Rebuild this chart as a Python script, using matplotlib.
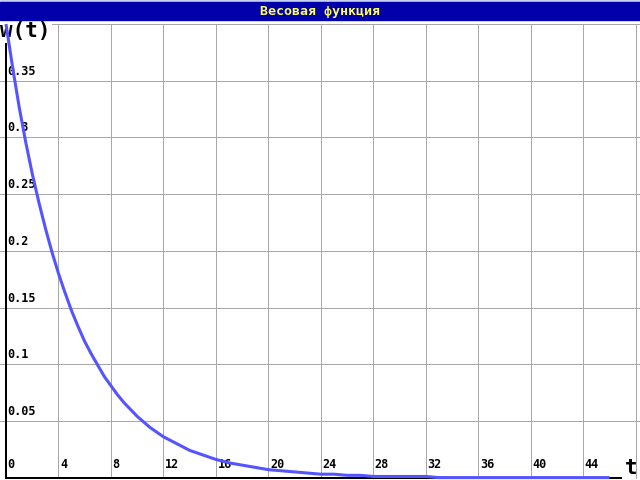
import matplotlib
matplotlib.use('Agg')
import matplotlib.pyplot as plt
from matplotlib.patches import Rectangle

# values
t_vals = [0, 0.5, 1, 1.5, 2, 2.5, 3, 3.5, 4, 4.5, 5, 5.5, 6, 6.5, 7, 7.5, 8, 8.5,
          9, 9.5, 10, 11, 12, 13, 14, 15, 16, 17, 18, 19, 20, 21, 22, 23, 24, 25,
          26, 27, 28, 29, 30, 31, 32, 33, 34, 35, 36, 37, 38, 39, 40, 41, 42, 43,
          44, 45, 46]
w_vals = [0.400, 0.362, 0.327, 0.296, 0.268, 0.243, 0.220, 0.199, 0.180, 0.163,
          0.147, 0.133, 0.120, 0.109, 0.099, 0.089, 0.081, 0.073, 0.066, 0.060,
          0.054, 0.044, 0.036, 0.030, 0.024, 0.020, 0.016, 0.013, 0.011, 0.009,
          0.007, 0.006, 0.005, 0.004, 0.003, 0.003, 0.002, 0.002, 0.001, 0.001,
          0.001, 0.001, 0.001, 0.0, 0.0, 0.0, 0.0, 0.0, 0.0, 0.0, 0.0, 0.0, 0.0,
          0.0, 0.0, 0.0, 0.0]

x_ticks = [0, 4, 8, 12, 16, 20, 24, 28, 32, 36, 40, 44]
x_grid = [4, 8, 12, 16, 20, 24, 28, 32, 36, 40, 44, 48]
y_ticks = [0.05, 0.1, 0.15, 0.2, 0.25, 0.3, 0.35]
y_labels = ['0.05', '0.1', '0.15', '0.2', '0.25', '0.3', '0.35']
y_grid = [0.05, 0.1, 0.15, 0.2, 0.25, 0.3, 0.35, 0.4]

title = 'Весовая функция'

fig = plt.figure(figsize=(6.4, 4.8), dpi=100)

# title bar
fig.patches.append(Rectangle((0, 1 - 2/480), 1, 2/480, transform=fig.transFigure,
                             color='#c8d0f0', zorder=0))
fig.patches.append(Rectangle((0, 1 - 20/480), 1, 18/480, transform=fig.transFigure,
                             color='#0000aa', zorder=0))
fig.text(0.5, 1 - 11/480, title, color='#ffff55', ha='center', va='center',
         fontsize=9.5, fontweight='bold', family='DejaVu Sans Mono')

ax = fig.add_axes([0, 0, 1, 460/480])
ax.set_xlim(-6/13.12, 634/13.12)
ax.set_ylim(-2.4/1134, 457.6/1134)
ax.axis('off')

for gx in x_grid:
    ax.plot([gx, gx], [0, 0.4], color='#a8a8a8', lw=0.72, zorder=1, antialiased=False)
for gy in y_grid:
    ax.plot([-1, 49], [gy, gy], color='#a8a8a8', lw=0.72, zorder=1, antialiased=False)

# axes lines
ax.plot([0, 0], [0, 0.386], color='black', lw=1.1, zorder=2, antialiased=False)
ax.plot([0, 46.9], [0, 0], color='black', lw=1.1, zorder=2, antialiased=False)

for xt in x_ticks:
    ax.annotate(str(xt), (xt, 0), xytext=(1.5, 7), textcoords='offset pixels',
                fontsize=8.5, fontweight='bold', family='DejaVu Sans Mono',
                ha='left', va='bottom', zorder=3)
for yt, yl in zip(y_ticks, y_labels):
    ax.annotate(yl, (0, yt), xytext=(1.5, 3), textcoords='offset pixels',
                fontsize=8.5, fontweight='bold', family='DejaVu Sans Mono',
                ha='left', va='bottom', zorder=3)

ax.text(-6/13.12, 0.3935, 'w(t)', fontsize=15, fontweight='bold', family='DejaVu Sans Mono',
        ha='left', va='center', zorder=5,
        bbox=dict(facecolor='white', edgecolor='none', pad=1.0))
ax.text(47.2, 0.0, 't', fontsize=15, fontweight='bold', family='DejaVu Sans Mono',
        ha='left', va='bottom', zorder=5)

ax.plot(t_vals, w_vals, color='#5555ff', lw=2.2, zorder=6, solid_capstyle='butt')

fig.savefig('out.png', dpi=100)
